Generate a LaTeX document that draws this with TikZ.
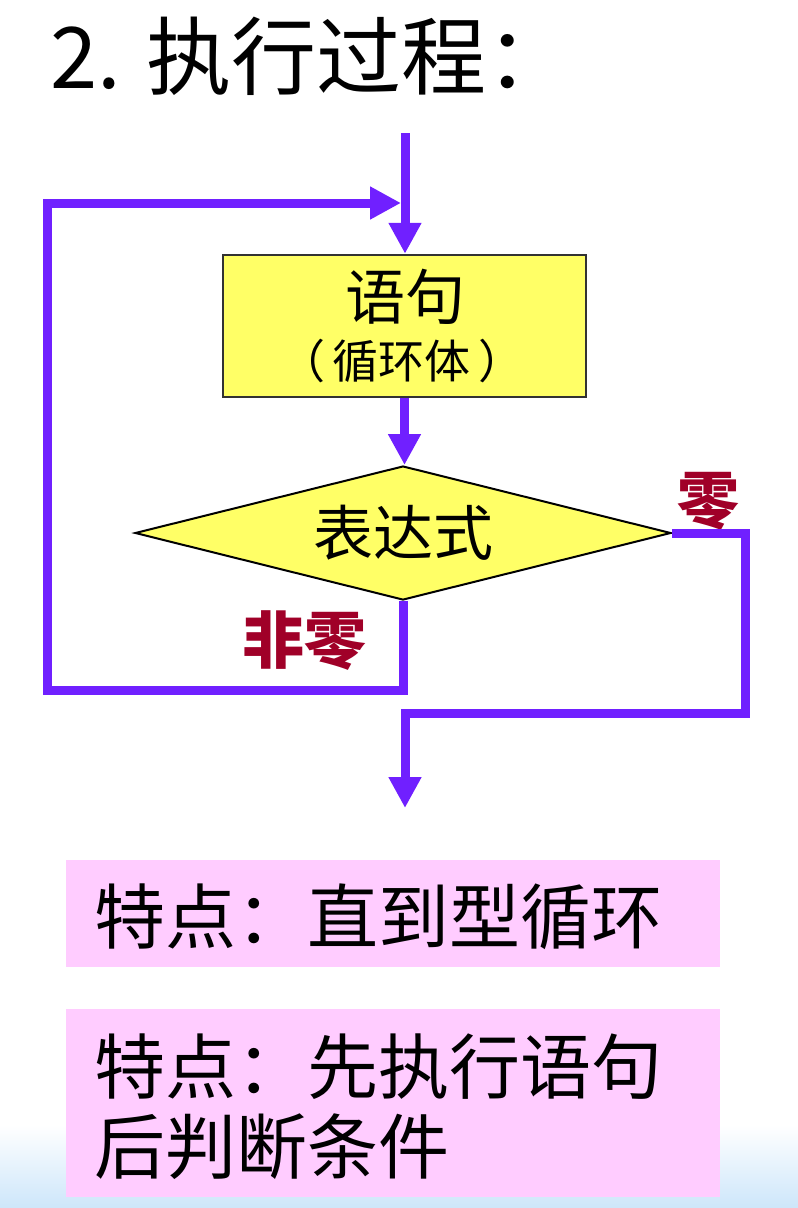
\documentclass[tikz,border=0pt]{standalone}
\usepackage{fontspec}
\newfontfamily\cjk{Noto Sans CJK SC}
\usetikzlibrary{arrows.meta,shapes.geometric}
\definecolor{flowc}{RGB}{112,32,255}
\definecolor{boxy}{RGB}{255,255,102}
\definecolor{labr}{RGB}{160,0,40}
\definecolor{pinkc}{RGB}{255,204,255}
\definecolor{bluebg}{RGB}{205,230,250}
\begin{document}
\begin{tikzpicture}[x=1pt,y=-1pt,
  flowline/.style={draw=flowc,line width=9pt,line join=miter},
  flowarrow/.style={flowline,-{Triangle[length=31pt,width=31pt]}},
  stmtbox/.style={draw={rgb,255:red,50;green,50;blue,50},line width=2.5pt,fill=boxy,minimum width=363pt,minimum height=142pt,inner sep=0pt},
  decide/.style={diamond,aspect=4,draw=black,line width=2pt,fill=boxy,minimum width=536pt,minimum height=134pt,inner sep=0pt,font=\cjk\fontsize{60}{60}\selectfont},
  lab/.style={inner sep=0pt,text=labr,font=\cjk\bfseries\fontsize{62}{62}\selectfont},
  pinkbox/.style={fill=pinkc,inner sep=0pt,anchor=north west},
  pinktext/.style={inner sep=0pt,anchor=west,font=\cjk\fontsize{71}{71}\selectfont}]
\useasboundingbox (0,0) rectangle (798,1208);
% bottom background gradient
\shade[top color=white,bottom color=bluebg] (0,1125) rectangle (798,1208);
% title
\node[anchor=base west,inner sep=0pt,font=\cjk\fontsize{85}{85}\selectfont] (title) at (50,88) {2. 执行过程：};
% statement box
\node[stmtbox] (box) at (404.5,326) {};
\node[inner sep=0pt,font=\cjk\fontsize{60}{60}\selectfont] (boxt1) at (405,297) {语句};
\node[inner sep=0pt,font=\cjk\fontsize{46}{46}\selectfont] (boxt2) at (402,361) {（\hspace{8pt}循环体\hspace{8pt}）};
% decision
\node[decide] (dia) at (403,533) {表达式};
% labels
\node[lab] (l0) at (708,501) {零};
\node[lab] (l1) at (304,641) {非零};
% coordinates
\coordinate (start) at (405,133);
\coordinate (lb) at (47,690);
\coordinate (lt) at (47,203);
\coordinate (rb) at (745,713);
\coordinate (exit) at (405,808);
% connectors
\draw[flowarrow] (start) -- (start |- box.north);
\draw[flowarrow] (box.south) -- (box.south |- dia.north);
\draw[flowarrow] (dia.south) |- (lb) -- (lt) -- (401,203);
\draw[flowarrow] (dia.east) -| (rb) -| (exit);
% remark boxes
\node[pinkbox,minimum width=654pt,minimum height=107pt] (k1) at (66,860) {};
\node[pinktext] (k1t) at (94,917) {特点：直到型循环};
\node[pinkbox,minimum width=654pt,minimum height=188pt] (k2) at (66,1009) {};
\node[pinktext] (k2t1) at (94,1067) {特点：先执行语句};
\node[pinktext] (k2t2) at (94,1147) {后判断条件};
\end{tikzpicture}
\end{document}
